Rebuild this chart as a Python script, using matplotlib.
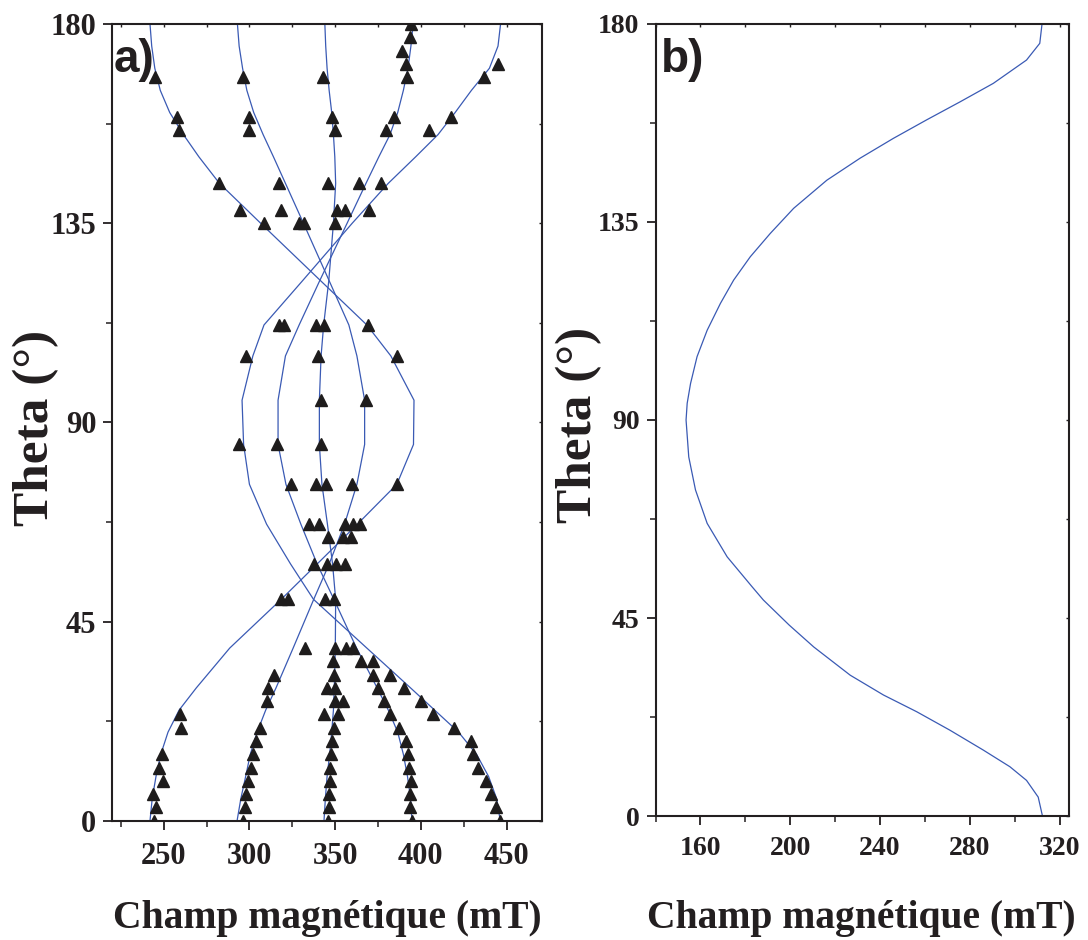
import matplotlib
matplotlib.use("Agg")
import matplotlib.pyplot as plt
from matplotlib.ticker import MultipleLocator, FixedLocator

# ---------------- data: panel a (experimental points) ----------------
obs_theta = (
    [180] + [177] + [174] + [171] * 2 + [168] * 5 + [159] * 5 + [156] * 5 +
    [144] * 5 + [138] * 5 + [135] * 4 + [112] * 5 + [105] * 3 + [95] * 2 +
    [85] * 3 + [76] * 5 + [67] * 5 + [64] * 3 + [58] * 4 + [50] * 4 +
    [39] * 4 + [36] * 3 + [33] * 4 + [30] * 5 + [27] * 5 + [24] * 5 +
    [21] * 5 + [18] * 4 + [15] * 5 + [12] * 5 + [9] * 5 + [6] * 5 +
    [3] * 5 + [0] * 5
)
obs_field = [
    394.4,
    393.8,
    389.1,
    391.1, 444.9,
    245.2, 296.3, 342.9, 391.9, 437.1,
    258.0, 300.0, 348.2, 384.1, 417.7,
    259.0, 300.0, 349.7, 379.8, 404.5,
    282.5, 317.0, 346.0, 364.1, 376.9,
    294.7, 318.6, 351.0, 355.9, 369.7,
    308.7, 328.7, 332.0, 349.7,
    317.0, 320.4, 339.0, 343.3, 369.1,
    298.2, 340.0, 386.0,
    341.7, 368.0,
    294.0, 316.1, 341.9,
    324.4, 339.0, 344.7, 359.8, 386.0,
    334.9, 340.8, 355.5, 360.2, 364.7,
    345.6, 354.3, 359.2,
    337.8, 345.2, 350.7, 355.9,
    318.6, 322.3, 344.3, 349.5,
    332.2, 349.7, 356.3, 360.4,
    348.5, 365.1, 371.8,
    314.1, 349.1, 371.8, 382.1,
    310.9, 345.2, 350.1, 375.0, 389.9,
    310.3, 350.1, 354.3, 378.6, 400.0,
    259.3, 343.3, 351.7, 382.1, 407.0,
    260.3, 306.4, 349.1, 387.0, 419.6,
    303.9, 348.2, 391.4, 429.3,
    249.1, 301.9, 347.6, 392.4, 430.7,
    247.5, 301.1, 347.2, 393.3, 433.3,
    249.7, 299.1, 346.8, 394.5, 438.1,
    243.8, 298.0, 346.2, 393.4, 441.0,
    245.7, 297.2, 346.2, 393.8, 443.9,
    244.6, 296.3, 345.8, 394.8, 446.3,
]

# ---------------- data: panel a (fitted curves) ----------------
fit_theta = [0, 5, 10, 15, 20, 25, 30, 39, 50, 58, 67, 76, 85, 95, 105, 112,
             122, 135, 144, 150, 155, 160, 165, 170, 175, 180]
fit_A = [242.0, 243.3, 245.5, 248.3, 252.5, 259.0, 269.0, 288.5, 318.5, 339.5,
         363.0, 386.0, 395.7, 396.0, 382.5, 368.5, 341.5, 306.5, 282.5, 270.5,
         261.5, 253.5, 248.0, 244.8, 243.0, 242.0]
fit_B = [292.8, 295.0, 297.8, 300.5, 304.5, 309.5, 315.5, 325.5, 337.5, 346.5,
         355.5, 362.7, 367.2, 367.2, 362.7, 358.0, 346.5, 331.5, 321.0, 314.0,
         308.0, 302.5, 298.5, 296.0, 294.0, 293.0]
fit_C = [343.5, 344.3, 345.3, 346.8, 348.0, 349.0, 349.5, 350.1, 350.3, 348.5,
         345.5, 342.3, 340.8, 340.8, 341.8, 343.3, 346.3, 349.0, 350.3, 349.8,
         349.0, 348.0, 346.5, 345.3, 344.5, 344.0]
fit_D = [394.8, 394.0, 392.2, 389.8, 386.5, 381.0, 374.5, 362.5, 349.3, 339.5,
         330.0, 321.3, 316.7, 316.7, 321.0, 329.0, 341.0, 357.0, 368.0, 375.5,
         382.0, 386.5, 389.8, 392.5, 394.2, 395.5]
fit_E = [446.3, 444.2, 439.5, 432.5, 422.0, 408.0, 394.0, 368.5, 337.4, 324.0,
         310.0, 300.0, 296.6, 295.7, 302.0, 308.5, 331.0, 360.0, 381.0, 397.0,
         410.0, 420.0, 429.5, 440.0, 445.0, 446.5]

# ---------------- data: panel b (simulated curve) ----------------
b_theta = [0, 4.3, 8.1, 11.2, 15, 19.5, 23.7, 27.5, 32, 38.4, 43.4, 49.1,
           52.1, 58.9, 66.5, 74.1, 81.6, 90, 93.8, 98.3, 104.4, 110.4, 116.5,
           121.8, 127.1, 132.4, 138.1, 144.5, 149.5, 154, 158.2, 162.3, 166.5,
           171.8, 175.6, 180]
b_field = [312.3, 310.4, 305.2, 297.8, 285.9, 271.1, 256.3, 241.5, 226.7,
           210.5, 199.5, 188.0, 183.0, 171.9, 163.0, 157.8, 154.8, 153.6,
           154.1, 155.6, 158.5, 163.0, 168.9, 174.8, 182.2, 191.1, 201.5,
           216.3, 231.1, 245.9, 260.7, 275.6, 290.4, 305.2, 311.1, 312.1]

xticks_a = [250, 300, 350, 400, 450]
xticks_b = [160, 200, 240, 280, 320]
yticks = [0, 45, 90, 135, 180]
xlabel = "Champ magnétique (mT)"
ylabel = "Theta (°)"

# ---------------- style ----------------
LINE = "#3a5ab4"
INK = "#231f20"
SERIF = ["Liberation Serif", "DejaVu Serif"]
SANS = ["Liberation Sans", "DejaVu Sans"]

plt.rcParams["font.family"] = SERIF
plt.rcParams["font.weight"] = "bold"

fig = plt.figure(figsize=(10.88, 9.40), dpi=100)
ax_a = fig.add_axes([0.1032, 0.1269, 0.3947, 0.8476])
ax_b = fig.add_axes([0.6025, 0.1319, 0.3798, 0.8426])


def style_axes(ax, xmaj, xmin, tick_size, xpad):
    for s in ax.spines.values():
        s.set_linewidth(1.5)
        s.set_color(INK)
    ax.set_ylim(0, 180)
    ax.yaxis.set_major_locator(FixedLocator(yticks))
    ax.yaxis.set_minor_locator(MultipleLocator(22.5))
    ax.xaxis.set_major_locator(FixedLocator(xmaj))
    ax.xaxis.set_minor_locator(FixedLocator(xmin))
    ax.tick_params(which="major", direction="out", length=6.5, width=1.3,
                   color=INK, labelsize=tick_size, labelcolor=INK,
                   top=False, right=False)
    ax.tick_params(axis="x", which="major", pad=xpad)
    ax.tick_params(axis="y", which="major", pad=5)
    ax.tick_params(which="minor", direction="out", length=4, width=1.1,
                   color=INK, top=False, right=False)
    for lab in ax.get_xticklabels() + ax.get_yticklabels():
        lab.set_fontweight("bold")
        lab.set_family(SERIF)
    # mirrored short inward ticks on top / right
    sec_x = ax.secondary_xaxis("top")
    sec_x.xaxis.set_major_locator(FixedLocator(xmaj))
    sec_x.xaxis.set_minor_locator(FixedLocator(xmin))
    sec_x.tick_params(which="both", direction="in", length=2.5, width=1.0,
                      color=INK, labeltop=False)
    sec_x.spines["top"].set_visible(False)
    sec_y = ax.secondary_yaxis("right")
    sec_y.yaxis.set_major_locator(FixedLocator(yticks))
    sec_y.yaxis.set_minor_locator(MultipleLocator(22.5))
    sec_y.tick_params(which="both", direction="in", length=2.5, width=1.0,
                      color=INK, labelright=False)
    sec_y.spines["right"].set_visible(False)


# ---------------- panel a ----------------
for curve in (fit_A, fit_B, fit_C, fit_D, fit_E):
    ax_a.plot(curve, fit_theta, color=LINE, lw=0.9, zorder=2)
ax_a.plot(obs_field, obs_theta, linestyle="none", marker="^", ms=9,
          color="#1e1c1c", mec="#1e1c1c", zorder=3)
ax_a.set_xlim(220, 470.5)
style_axes(ax_a, xticks_a, [225, 275, 325, 375, 425], 22, 8.6)
ax_a.set_xlabel(xlabel, fontsize=28.5, fontweight="bold", color=INK,
                family=SERIF)
ax_a.xaxis.set_label_coords(0.5, -0.0995)
ax_a.set_ylabel(ylabel, fontsize=37, fontweight="bold", color=INK,
                family=SERIF)
ax_a.yaxis.set_label_coords(-0.1235, 0.4935)
ax_a.text(0.003, 0.982, "a)", transform=ax_a.transAxes, ha="left", va="top",
          fontsize=33, fontweight="bold", family=SANS, color=INK, zorder=4)

# ---------------- panel b ----------------
ax_b.plot(b_field, b_theta, color=LINE, lw=0.9)
ax_b.set_xlim(140, 324)
style_axes(ax_b, xticks_b, [140, 180, 220, 260, 300], 20, 8)
ax_b.set_xlabel(xlabel, fontsize=28.5, fontweight="bold", color=INK,
                family=SERIF)
ax_b.xaxis.set_label_coords(0.497, -0.106)
ax_b.set_ylabel(ylabel, fontsize=37, fontweight="bold", color=INK,
                family=SERIF)
ax_b.yaxis.set_label_coords(-0.129, 0.4937)
ax_b.text(0.014, 0.982, "b)", transform=ax_b.transAxes, ha="left", va="top",
          fontsize=33, fontweight="bold", family=SANS, color=INK, zorder=4)

fig.savefig("out.png", dpi=100)
